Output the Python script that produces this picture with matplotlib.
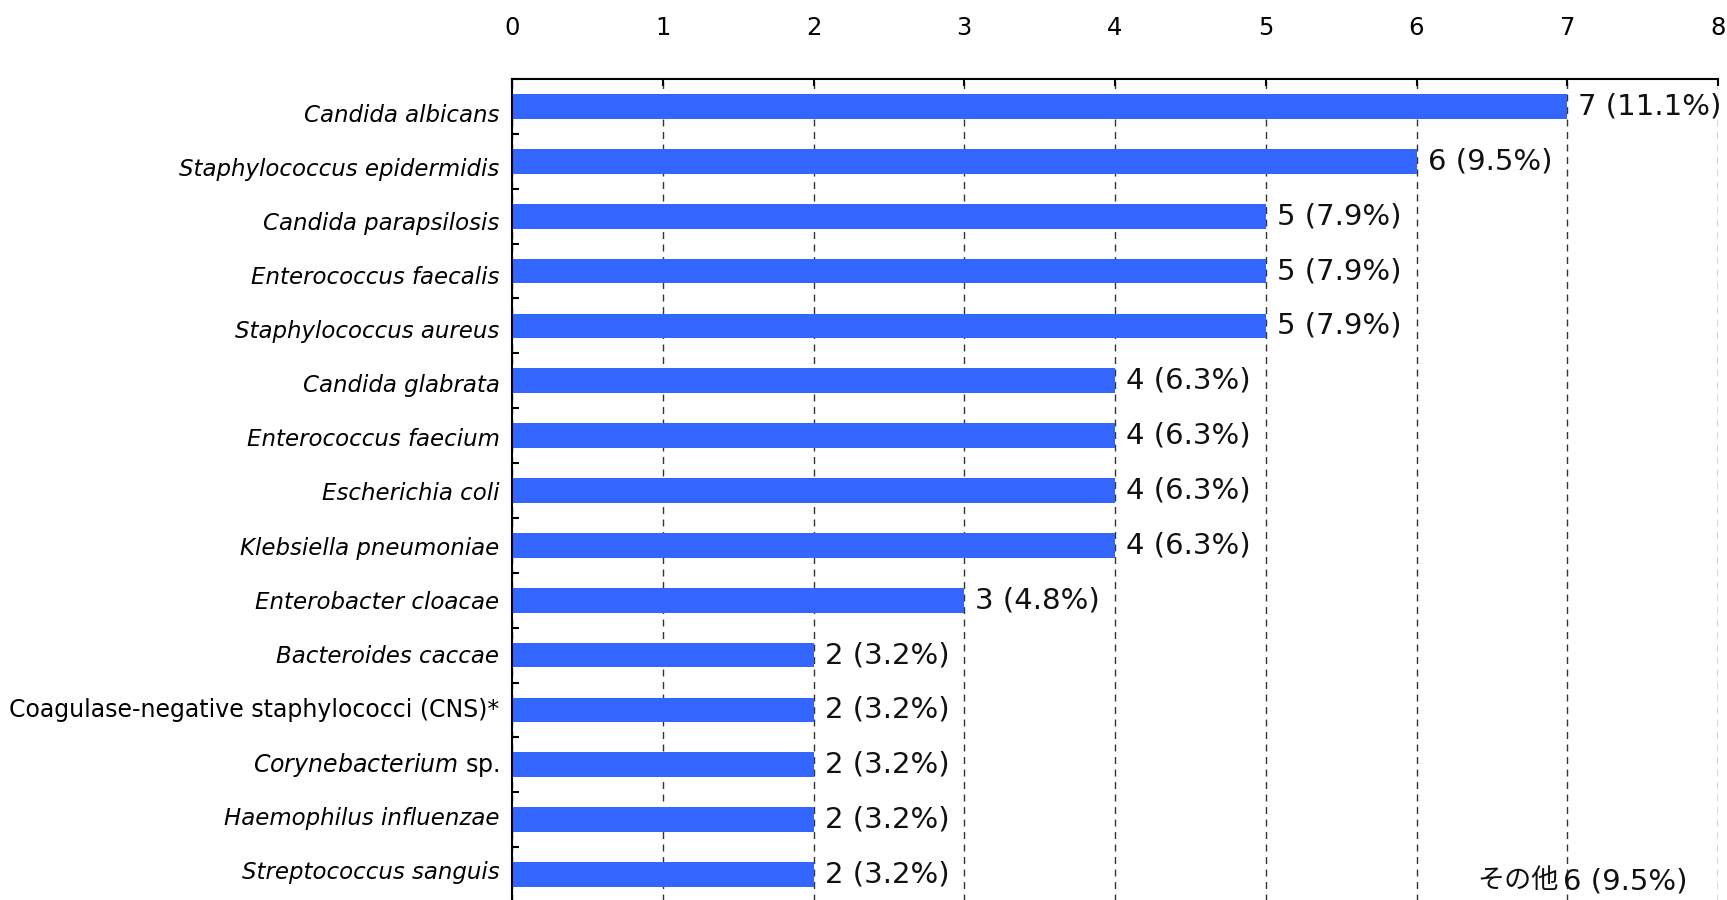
import matplotlib
matplotlib.use('Agg')
import matplotlib.pyplot as plt
import matplotlib.transforms as mtransforms
import numpy as np

plt.rcParams['font.family'] = ['DejaVu Sans', 'Noto Sans CJK JP']
plt.rcParams['mathtext.fontset'] = 'dejavusans'

# organisms, counts and shares
organisms = ['Candida albicans', 'Staphylococcus epidermidis', 'Candida parapsilosis',
             'Enterococcus faecalis', 'Staphylococcus aureus', 'Candida glabrata',
             'Enterococcus faecium', 'Escherichia coli', 'Klebsiella pneumoniae',
             'Enterobacter cloacae', 'Bacteroides caccae',
             'Coagulase-negative staphylococci (CNS)*', 'Corynebacterium sp.',
             'Haemophilus influenzae', 'Streptococcus sanguis']
counts = [7, 6, 5, 5, 5, 4, 4, 4, 4, 3, 2, 2, 2, 2, 2]
shares = ['11.1', '9.5', '7.9', '7.9', '7.9', '6.3', '6.3', '6.3', '6.3',
          '4.8', '3.2', '3.2', '3.2', '3.2', '3.2']
other_label = 'その他'
other_count = 6
other_share = '9.5'

fig = plt.figure(figsize=(17.27, 9), dpi=100)
ax = fig.add_axes([512 / 1727, -2 / 900, (1718 - 512) / 1727, (902 - 79) / 900])

y = np.arange(len(organisms))
ax.barh(y, counts, height=0.45, color='#3366FF', zorder=2)

for yi, c, s in zip(y, counts, shares):
    ax.annotate(f'{c} ({s}%)', xy=(c, yi), xytext=(8, 0), textcoords='offset points',
                ha='left', va='center', fontsize=21, color='#111111')

# "others" note: japanese word and the figure drawn as two pieces
ax.annotate(f'{other_count} ({other_share}%)', xy=(7.80, 14.12), ha='right', va='center',
            fontsize=21, color='#111111')
ax.annotate(other_label, xy=(7.80, 14.12), xytext=(-93, 0), textcoords='offset points',
            ha='right', va='center', fontsize=19.5, color='#111111')

ax.set_xlim(0, 8)
ax.set_ylim(len(organisms) - 0.5, -0.5)

ax.xaxis.tick_top()
ax.set_xticks(range(0, 9))
ax.tick_params(axis='x', direction='in', length=5, width=1.5, labelsize=17.5, pad=28)

# species names in italics, the rest upright
labels = []
for name in organisms:
    if name.startswith('Coagulase'):
        labels.append(name)
    elif name.endswith(' sp.'):
        labels.append(r'$\mathit{' + name[:-4] + '}$ sp.')
    else:
        labels.append(name)
ax.set_yticks(y)
ax.set_yticks(np.arange(-0.5, len(organisms)), minor=True)
ax.tick_params(axis='y', which='major', length=0, pad=9)
ax.tick_params(axis='y', which='minor', direction='in', length=5, width=1.5)
ax.set_yticklabels(labels, fontsize=17)
# the labels in the original sit on a slightly tighter pitch than the bars
for i, (lab, name) in enumerate(zip(ax.get_yticklabels(), organisms)):
    if not name.startswith('Coagulase') and not name.endswith(' sp.'):
        lab.set_fontstyle('italic')
        lab.set_fontsize(16.5)
    dy = (6.5 - 0.786 * i) / 100
    lab.set_transform(lab.get_transform() + mtransforms.ScaledTranslation(0, -dy, fig.dpi_scale_trans))

ax.grid(axis='x', linestyle=(0, (5, 4)), color='#333333', linewidth=1, zorder=1)
ax.set_axisbelow(True)

for side in ['right', 'bottom']:
    ax.spines[side].set_visible(False)
for side in ['top', 'left']:
    ax.spines[side].set_linewidth(1.5)

fig.savefig('out.png', dpi=100)
